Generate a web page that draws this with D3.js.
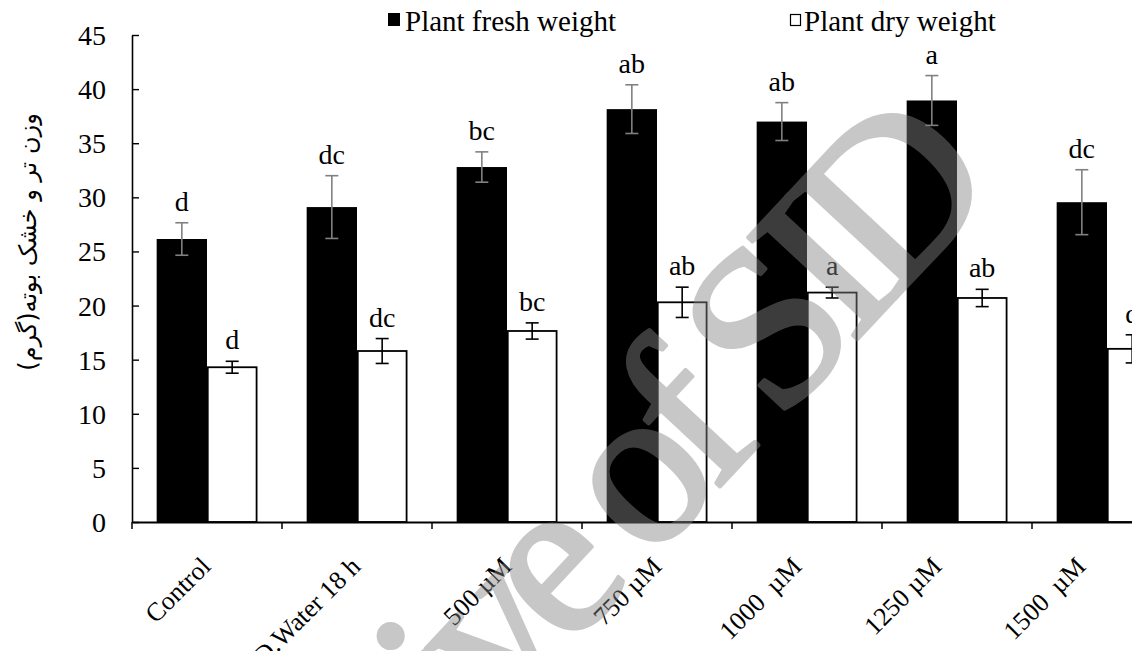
<!DOCTYPE html>
<html>
<head>
<meta charset="utf-8">
<script src="https://cdn.jsdelivr.net/npm/d3@7"></script>
<style>
  html, body { margin: 0; padding: 0; background: #fff; overflow: hidden; }
  svg { display: block; }
  text { font-family: "Liberation Serif", "Times New Roman", serif; fill: #000; }
</style>
</head>
<body>
<svg id="chart" width="1132" height="651"></svg>
<script>
// Treatments along the x axis
const categories = ["Control", "D.Water 18 h", "500 µM", "750 µM", "1000  µM", "1250 µM", "1500  µM"];

// Plant fresh weight (g) with standard error
const freshWeight = [26.15, 29.1, 32.8, 38.15, 37.0, 38.95, 29.55];
const freshError  = [1.5, 2.9, 1.4, 2.25, 1.75, 2.3, 3.0];
const freshLetters = ["d", "dc", "bc", "ab", "ab", "a", "dc"];

// Plant dry weight (g) with standard error
const dryWeight = [14.3, 15.8, 17.65, 20.3, 21.2, 20.7, 16.0];
const dryError  = [0.55, 1.15, 0.75, 1.4, 0.5, 0.8, 1.3];
const dryLetters = ["d", "dc", "bc", "ab", "a", "ab", "d"];

const yTicks = [0, 5, 10, 15, 20, 25, 30, 35, 40, 45];
const seriesNames = ["Plant fresh weight", "Plant dry weight"];

// layout
const plotLeft = 132, plotBottom = 522, plotTop = 35, step = 150;
const labelNudge = [5, 5, 6, 6, -4, -14, -20];

const svg = d3.select("#chart");

const x = d3.scaleBand()
  .domain(categories)
  .range([plotLeft, plotLeft + step * categories.length])
  .paddingInner(0).paddingOuter(0);

const xSub = d3.scaleBand()
  .domain(["fresh", "dry"])
  .range([0, x.bandwidth()])
  .paddingInner(0).paddingOuter(0.49);

const y = d3.scaleLinear().domain([0, 45]).range([plotBottom, plotTop]);

const series = [
  { key: "fresh", values: freshWeight, errors: freshError, letters: freshLetters,
    fill: "#000", stroke: "none", errColor: "#808080" },
  { key: "dry", values: dryWeight, errors: dryError, letters: dryLetters,
    fill: "#fff", stroke: "#000", errColor: "#000" }
];

// bars
series.forEach(s => {
  const g = svg.append("g").attr("class", "bars-" + s.key);
  g.selectAll("rect")
    .data(categories)
    .join("rect")
    .attr("x", c => x(c) + xSub(s.key) + (s.stroke === "none" ? 0 : 0.75))
    .attr("width", xSub.bandwidth() - (s.stroke === "none" ? 0 : 1.5))
    .attr("y", (c, i) => y(s.values[i]))
    .attr("height", (c, i) => y(0) - y(s.values[i]))
    .attr("fill", s.fill)
    .attr("stroke", s.stroke)
    .attr("stroke-width", 1.8);
});

// y axis with inside tick marks
const yAxis = svg.append("g")
  .attr("transform", `translate(${plotLeft},0)`)
  .call(d3.axisLeft(y).tickValues(yTicks).tickSizeInner(-7).tickSizeOuter(0).tickPadding(26));
yAxis.select(".domain").attr("stroke", "#000").attr("stroke-width", 1.6);
yAxis.selectAll(".tick line").attr("stroke", "#000").attr("stroke-width", 1.4);
yAxis.selectAll(".tick text")
  .attr("font-size", 28)
  .attr("dy", "0.34em");

// x axis: labels at category centres, tick marks at category boundaries
const xAxis = svg.append("g")
  .attr("transform", `translate(0,${plotBottom})`)
  .call(d3.axisBottom(x).tickSize(0).tickSizeOuter(0));
xAxis.select(".domain").attr("stroke", "#000").attr("stroke-width", 2);
xAxis.selectAll(".tick text")
  .attr("font-size", 26)
  .attr("text-anchor", "end")
  .attr("y", 0).attr("dy", 0)
  .style("white-space", "pre")
  .attr("transform", (d, i) => `translate(${labelNudge[i]},46) rotate(-45)`);

const boundaries = categories.map(c => x(c)).concat([x.range()[1]]);
svg.append("g").selectAll("line")
  .data(boundaries)
  .join("line")
  .attr("x1", d => d).attr("x2", d => d)
  .attr("y1", plotBottom).attr("y2", plotBottom + 7)
  .attr("stroke", "#000").attr("stroke-width", 1.5);

// error bars and significance letters
series.forEach(s => {
  const g = svg.append("g").attr("class", "err-" + s.key);
  categories.forEach((c, i) => {
    const cx = x(c) + xSub(s.key) + xSub.bandwidth() / 2;
    const hi = y(s.values[i] + s.errors[i]);
    const lo = y(s.values[i] - s.errors[i]);
    g.append("line").attr("x1", cx).attr("x2", cx).attr("y1", hi).attr("y2", lo)
      .attr("stroke", s.errColor).attr("stroke-width", 1.6);
    [hi, lo].forEach(v => {
      g.append("line").attr("x1", cx - 6.5).attr("x2", cx + 6.5).attr("y1", v).attr("y2", v)
        .attr("stroke", s.errColor).attr("stroke-width", 1.6);
    });
    g.append("text")
      .attr("x", cx).attr("y", hi - 12)
      .attr("text-anchor", "middle")
      .attr("font-size", 28)
      .text(s.letters[i]);
  });
});

// legend
const legend = svg.append("g");
legend.append("rect").attr("x", 388).attr("y", 13).attr("width", 12).attr("height", 13).attr("fill", "#000");
legend.append("text").attr("x", 405).attr("y", 31).attr("font-size", 29).text(seriesNames[0]);
legend.append("rect").attr("x", 790.5).attr("y", 14.5).attr("width", 10).attr("height", 11)
  .attr("fill", "#fff").attr("stroke", "#000").attr("stroke-width", 1.2);
legend.append("text").attr("x", 804).attr("y", 31).attr("font-size", 29).text(seriesNames[1]);

// y axis title
svg.append("text")
  .attr("transform", "translate(36,242) rotate(-90)")
  .attr("text-anchor", "middle")
  .style("font-family", "'DejaVu Sans', 'Noto Sans', sans-serif")
  .attr("font-size", 24)
  .text("وزن تر و خشک بوته(گرم)");

// watermark
svg.append("text")
  .attr("transform", "translate(990,197) rotate(-47)")
  .attr("text-anchor", "end")
  .attr("font-size", 228)
  .style("letter-spacing", "-19px")
  .style("fill", "#858585")
  .style("stroke", "#858585")
  .style("stroke-width", 4)
  .style("stroke-linejoin", "round")
  .style("opacity", 0.45)
  .text("Archive of SID");
</script>
</body>
</html>
